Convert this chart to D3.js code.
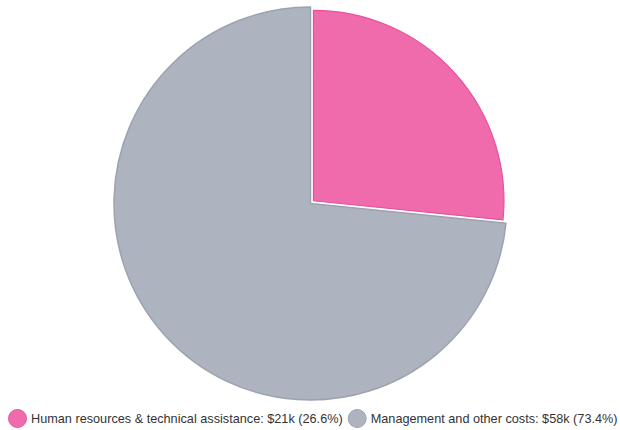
<!DOCTYPE html>
<meta charset="utf-8">
<script src="https://d3js.org/d3.v7.min.js"></script>
<style>
  body { margin: 0; background: #fff; }
  text { font-family: "Liberation Sans", Arial, sans-serif; }
</style>
<div id="chart"></div>
<script>
// data
var categories = ["Human resources & technical assistance", "Management and other costs"]
var values = [21, 58]          // $k
var shares = [26.6, 73.4]      // %
var fills = ["#f06bac", "#aeb3c0"]
var strokes = ["#e8509d", "#9da2af"]

var width = 620, height = 430
var cx = 310.5, cy = 203.5, radius = 196.5

var svg = d3.select("#chart").append("svg")
    .attr("width", width)
    .attr("height", height)

var pie = d3.pie().sort(null).value(function(d, i) { return shares[i] })
var arcs = pie(values)

var g = svg.append("g").attr("transform", "translate(" + cx + "," + cy + ")")

// grey slice first, pink slice pulled out on top
var order = [1, 0]
order.forEach(function(i) {
  var a = arcs[i]
  var mid = (a.startAngle + a.endAngle) / 2
  var off = i == 0 ? 4 : 0
  var r = i == 0 ? radius - 5.5 : radius
  var arc = d3.arc().innerRadius(0).outerRadius(r)
  g.append("path")
    .attr("transform", "translate(" + (Math.sin(mid) * off) + "," + (-Math.cos(mid) * off) + ")")
    .attr("d", arc(a))
    .attr("fill", fills[i])
    .attr("stroke", i == 0 ? "#fff" : strokes[i])
    .attr("stroke-width", i == 0 ? 3 : 1.5)
    .attr("stroke-linejoin", "round")
  if (i == 0) {
    g.append("path")
      .attr("transform", "translate(" + (Math.sin(mid) * off) + "," + (-Math.cos(mid) * off) + ")")
      .attr("d", d3.arc().innerRadius(0).outerRadius(r - 0.5)(a))
      .attr("fill", fills[i])
      .attr("stroke", strokes[i])
      .attr("stroke-width", 1.2)
  }
})

// legend
var legend = svg.append("g").attr("transform", "translate(0,418.5)")
var x = 8
categories.forEach(function(c, i) {
  var item = legend.append("g").attr("transform", "translate(" + x + ",0)")
  item.append("circle")
    .attr("cx", 9.5).attr("cy", 0).attr("r", 9)
    .attr("fill", fills[i])
    .attr("stroke", strokes[i])
    .attr("stroke-width", 1)
  var t = item.append("text")
    .attr("x", 23).attr("y", 4.5)
    .attr("font-size", 12.7)
    .attr("fill", "#333")
    .text(c + ": $" + values[i] + "k (" + shares[i] + "%)")
  x += 23 + t.node().getComputedTextLength() + 5
})
</script>
